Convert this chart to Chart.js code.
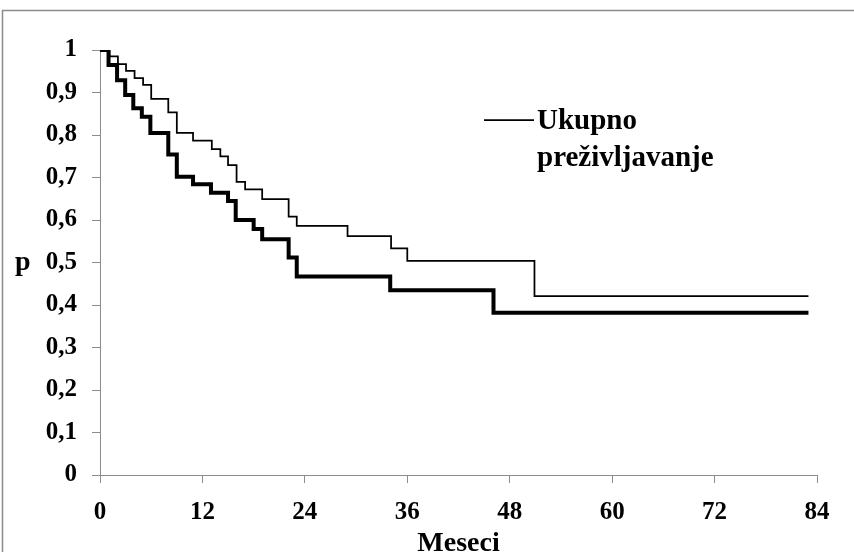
<!DOCTYPE html>
<html>
<head>
<meta charset="utf-8">
<script src="https://cdn.jsdelivr.net/npm/chart.js@4.4.1/dist/chart.umd.min.js"></script>
<style>
  html, body { margin: 0; padding: 0; background: #fff; }
  #wrap { width: 854px; height: 552px; }
</style>
</head>
<body>
<div id="wrap"><canvas id="kmChart" width="854" height="552"></canvas></div>
<script>
// survival curves: month of each drop and the survival left after it
const overallMonths = [0, 1.1, 2.1, 3.05, 4.05, 5.05, 6, 8, 9, 10.9, 13.1, 14.1, 15, 16, 17, 19, 22.1, 23.05, 29, 34.1, 36, 50.9, 83];
const overallSurv = [1, 0.985, 0.967, 0.951, 0.934, 0.918, 0.885, 0.853, 0.805, 0.787, 0.767, 0.75, 0.729, 0.69, 0.672, 0.649, 0.608, 0.586, 0.562, 0.533, 0.504, 0.421, 0.421];

const groupMonths = [0, 1, 2, 2.95, 3.9, 4.9, 5.9, 8, 9, 10.9, 13, 15, 15.9, 18, 19, 22.1, 23.05, 34, 46.1, 83];
const groupSurv = [1, 0.965, 0.929, 0.894, 0.863, 0.843, 0.805, 0.754, 0.702, 0.684, 0.664, 0.645, 0.6, 0.579, 0.555, 0.512, 0.467, 0.435, 0.382, 0.382];

const xTicks = [0, 12, 24, 36, 48, 60, 72, 84];
const legendLines = ["Ukupno", "preživljavanje"];

const serif = '"Liberation Serif", "Times New Roman", serif';
const axisGray = '#8c8c8c';

const toPoints = (xs, ys) => xs.map((x, i) => ({ x: x, y: ys[i] }));

// frame, the "p" title and the one-entry legend
const extras = {
  id: 'extras',
  afterDraw(chart) {
    const ctx = chart.ctx;
    const y = chart.scales.y;
    ctx.save();
    ctx.strokeStyle = axisGray;
    ctx.lineWidth = 1.5;
    ctx.beginPath();
    ctx.moveTo(2.5, 552);
    ctx.lineTo(2.5, 10.5);
    ctx.lineTo(854, 10.5);
    ctx.stroke();

    ctx.fillStyle = '#000';
    ctx.font = 'bold 28px ' + serif;
    ctx.textAlign = 'left';
    ctx.textBaseline = 'middle';
    ctx.fillText('p', 15, y.getPixelForValue(0.5));

    const ds = chart.data.datasets[0];
    ctx.strokeStyle = ds.borderColor;
    ctx.lineWidth = ds.borderWidth;
    ctx.beginPath();
    ctx.moveTo(484, 120);
    ctx.lineTo(534, 120);
    ctx.stroke();
    ctx.font = 'bold 29px ' + serif;
    ctx.textBaseline = 'alphabetic';
    legendLines.forEach((t, i) => ctx.fillText(t, 537, 129 + i * 37));
    ctx.restore();
  }
};

new Chart(document.getElementById('kmChart'), {
  type: 'line',
  data: {
    datasets: [{
      label: legendLines.join(' '),
      data: toPoints(overallMonths, overallSurv),
      borderColor: '#000',
      borderWidth: 1.75,
      stepped: true,
      pointRadius: 0,
      fill: false
    }, {
      label: 'grupa',
      data: toPoints(groupMonths, groupSurv),
      borderColor: '#000',
      borderWidth: 4,
      stepped: true,
      pointRadius: 0,
      fill: false
    }]
  },
  options: {
    responsive: false,
    animation: false,
    devicePixelRatio: 1,
    layout: { padding: { top: 50, right: 37, left: 0, bottom: 0 } },
    plugins: { legend: { display: false }, tooltip: { enabled: false } },
    scales: {
      x: {
        type: 'linear',
        min: 0,
        max: 84,
        afterFit: s => { s.height = 77; },
        afterBuildTicks: s => { s.ticks = xTicks.map(v => ({ value: v })); },
        grid: { drawOnChartArea: false, drawTicks: true, tickLength: 8, color: axisGray },
        border: { display: true, color: axisGray, width: 1 },
        ticks: { color: '#000', padding: 15, maxRotation: 0, font: { family: serif, size: 25, weight: 'bold' } },
        title: {
          display: true,
          text: 'Meseci',
          color: '#000',
          padding: { top: 0, bottom: 0 },
          font: { family: serif, size: 28, weight: 'bold', lineHeight: 0.6 }
        }
      },
      y: {
        min: 0,
        max: 1,
        afterFit: s => { s.width = 100; },
        grid: { drawOnChartArea: false, drawTicks: true, tickLength: 8, color: axisGray },
        border: { display: true, color: axisGray, width: 1 },
        ticks: {
          stepSize: 0.1,
          color: '#000',
          padding: 15,
          font: { family: serif, size: 25, weight: 'bold' },
          callback: v => String(Math.round(v * 10) / 10).replace('.', ',')
        }
      }
    }
  },
  plugins: [extras]
});
</script>
</body>
</html>
